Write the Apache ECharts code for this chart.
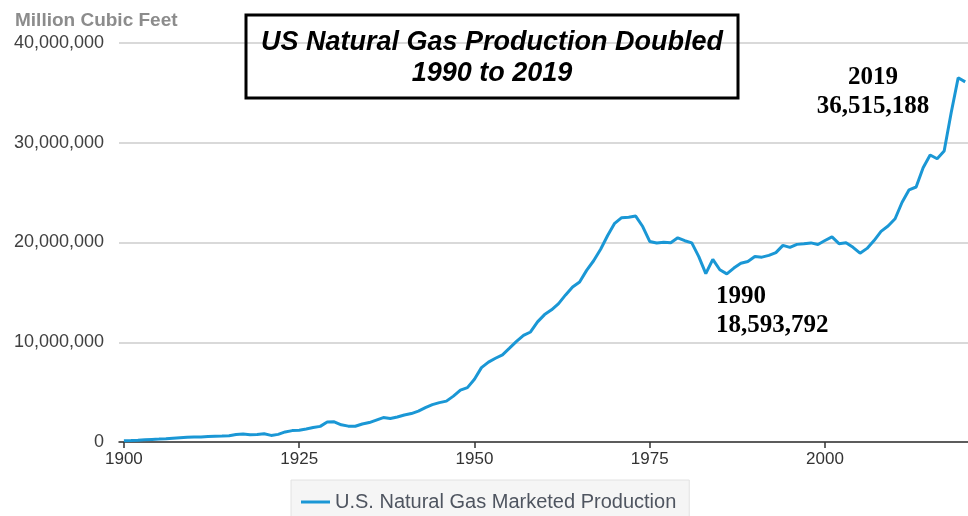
<!DOCTYPE html>
<html>
<head>
<meta charset="utf-8">
<script src="https://cdn.jsdelivr.net/npm/echarts@6/dist/echarts.min.js"></script>
<style>
  html, body { margin: 0; padding: 0; background: #fff; }
  #gasChart { width: 968px; height: 516px; }
</style>
</head>
<body>
<div id="gasChart"></div>
<script>
// years on the x axis
const years = [
  1900, 1901, 1902, 1903, 1904, 1905, 1906, 1907, 1908, 1909,
  1910, 1911, 1912, 1913, 1914, 1915, 1916, 1917, 1918, 1919,
  1920, 1921, 1922, 1923, 1924, 1925, 1926, 1927, 1928, 1929,
  1930, 1931, 1932, 1933, 1934, 1935, 1936, 1937, 1938, 1939,
  1940, 1941, 1942, 1943, 1944, 1945, 1946, 1947, 1948, 1949,
  1950, 1951, 1952, 1953, 1954, 1955, 1956, 1957, 1958, 1959,
  1960, 1961, 1962, 1963, 1964, 1965, 1966, 1967, 1968, 1969,
  1970, 1971, 1972, 1973, 1974, 1975, 1976, 1977, 1978, 1979,
  1980, 1981, 1982, 1983, 1984, 1985, 1986, 1987, 1988, 1989,
  1990, 1991, 1992, 1993, 1994, 1995, 1996, 1997, 1998, 1999,
  2000, 2001, 2002, 2003, 2004, 2005, 2006, 2007, 2008, 2009,
  2010, 2011, 2012, 2013, 2014, 2015, 2016, 2017, 2018, 2019,
  2020
];

// marketed production, million cubic feet
const production = [
  128000, 150000, 180000, 220000, 260000, 290000, 330000, 380000, 430000, 480000,
  509000, 513000, 562000, 582000, 592000, 629000, 753000, 795000, 721000, 746000,
  820000, 662000, 763000, 1007000, 1141000, 1188000, 1313000, 1445000, 1568000, 2000000,
  2020000, 1720000, 1590000, 1580000, 1800000, 1950000, 2200000, 2450000, 2350000, 2500000,
  2700000, 2850000, 3100000, 3450000, 3750000, 3950000, 4100000, 4600000, 5200000, 5450000,
  6282000, 7457000, 8013000, 8397000, 8743000, 9405000, 10082000, 10680000, 11030000, 12046000,
  12771000, 13254000, 13877000, 14747000, 15547000, 16040000, 17207000, 18171000, 19322000, 20698000,
  21921000, 22493000, 22532000, 22648000, 21601000, 20109000, 19952000, 20025000, 19974000, 20471000,
  20180000, 19956000, 18582000, 16885000, 18304000, 17270000, 16859000, 17433000, 17918000, 18095000,
  18593792, 18532000, 18712000, 18982000, 19710000, 19506000, 19812000, 19866000, 19961000, 19805000,
  20198000, 20570000, 19885000, 19974000, 19517000, 18927000, 19410000, 20196000, 21112000, 21648000,
  22382000, 24036000, 25283000, 25562000, 27498000, 28772000, 28400000, 29165000, 33009000, 36515188,
  36100000
];

const xTicks = [1900, 1925, 1950, 1975, 2000];
const seriesName = 'U.S. Natural Gas Marketed Production';

const chart = echarts.init(document.getElementById('gasChart'));

const option = {
  animation: false,
  title: {
    text: 'Million Cubic Feet',
    left: 10,
    top: 6,
    textStyle: {
      fontFamily: 'Liberation Sans',
      fontSize: 19,
      fontWeight: 'bold',
      color: '#8c8c8c'
    }
  },
  grid: {
    left: 119,
    right: 0,
    top: 43,
    bottom: 74
  },
  legend: {
    left: 291,
    top: 480,
    icon: 'rect',
    itemWidth: 29,
    itemHeight: 3,
    itemGap: 10,
    padding: [12, 13, 12, 10],
    backgroundColor: '#f5f5f5',
    borderColor: '#e2e2e2',
    borderWidth: 1,
    textStyle: {
      fontFamily: 'Liberation Sans',
      fontSize: 20,
      color: '#4f5560'
    },
    data: [seriesName]
  },
  xAxis: {
    type: 'value',
    min: 1899.3,
    max: 2020.4,
    splitLine: { show: false },
    axisLine: { lineStyle: { color: '#333', width: 1.5 } },
    axisTick: {
      customValues: xTicks,
      length: 6,
      lineStyle: { color: '#333', width: 1.5 }
    },
    axisLabel: {
      customValues: xTicks,
      margin: 9,
      fontFamily: 'Liberation Sans',
      fontSize: 17,
      color: '#333',
      formatter: function (v) {
        return String(v);
      }
    }
  },
  yAxis: {
    type: 'value',
    min: 0,
    max: 40000000,
    interval: 10000000,
    axisLine: { show: false },
    axisTick: { show: false },
    splitLine: { lineStyle: { color: '#cccccc', width: 1.5 } },
    axisLabel: {
      margin: 15,
      fontFamily: 'Liberation Sans',
      fontSize: 18,
      color: '#404040',
      formatter: function (v) {
        return v.toLocaleString('en-US');
      }
    }
  },
  series: [
    {
      name: seriesName,
      type: 'line',
      symbol: 'none',
      data: years.map((y, i) => [y, production[i]]),
      lineStyle: { color: '#1a97d5', width: 3 },
      itemStyle: { color: '#1a97d5' }
    }
  ],
  graphic: [
    {
      type: 'rect',
      shape: { x: 246, y: 15, width: 492, height: 83 },
      style: { fill: 'none', stroke: '#000', lineWidth: 3 },
      z: 100
    },
    {
      type: 'text',
      x: 492,
      y: 58,
      style: {
        text: 'US Natural Gas Production Doubled\n1990 to 2019',
        textAlign: 'center',
        textVerticalAlign: 'middle',
        font: 'italic bold 27px "Liberation Sans"',
        lineHeight: 31,
        fill: '#000'
      },
      z: 100
    },
    {
      type: 'text',
      x: 873,
      y: 92,
      style: {
        text: '2019\n36,515,188',
        textAlign: 'center',
        textVerticalAlign: 'middle',
        font: 'bold 25px "Liberation Serif"',
        lineHeight: 29,
        fill: '#000'
      },
      z: 100
    },
    {
      type: 'text',
      x: 716,
      y: 311,
      style: {
        text: '1990\n18,593,792',
        textAlign: 'left',
        textVerticalAlign: 'middle',
        font: 'bold 25px "Liberation Serif"',
        lineHeight: 29,
        fill: '#000'
      },
      z: 100
    }
  ]
};

chart.setOption(option);
</script>
</body>
</html>
